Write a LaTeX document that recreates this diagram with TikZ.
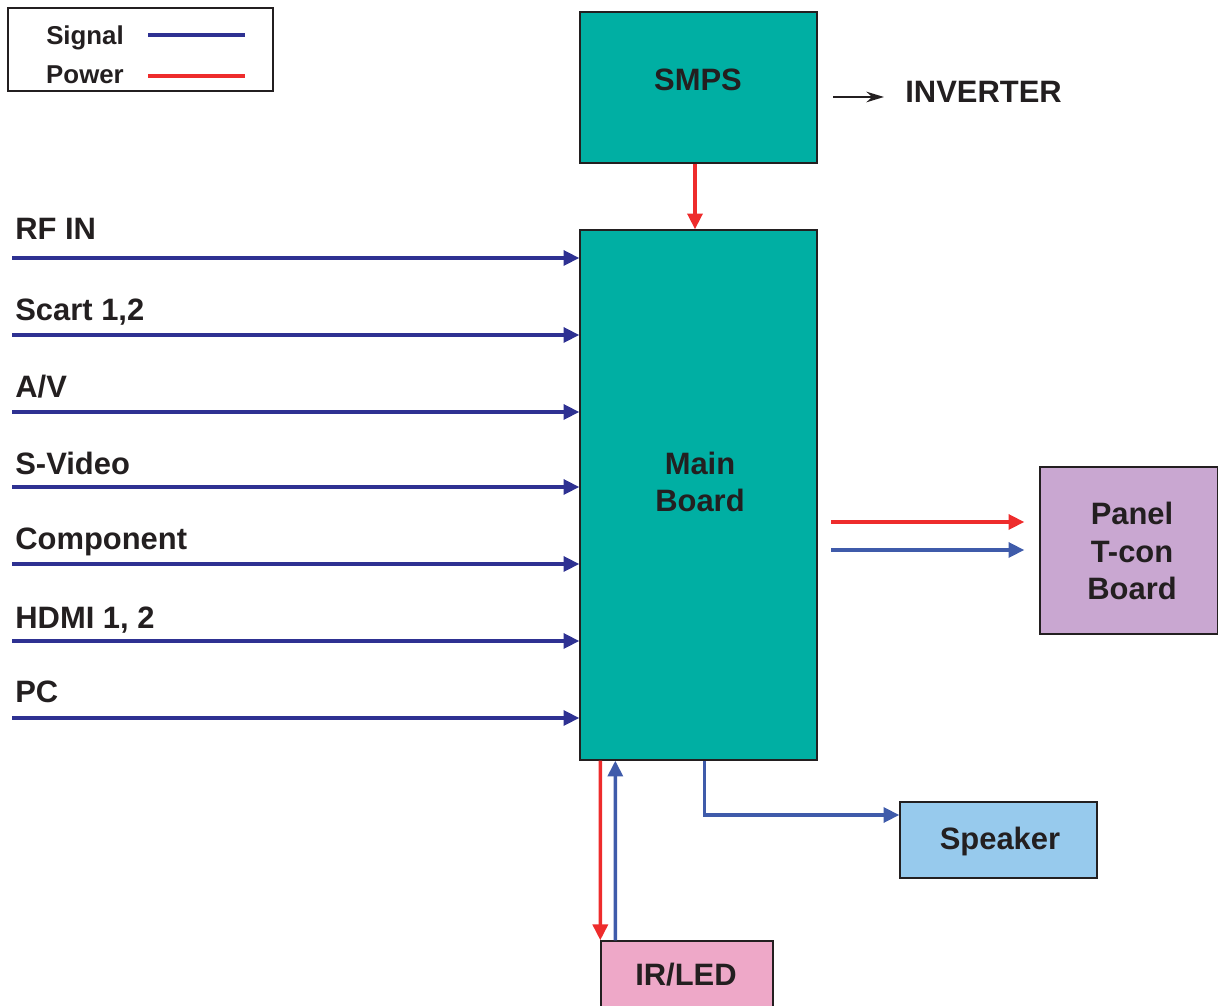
\documentclass[tikz,border=0pt]{standalone}
\usepackage{fontspec}
\setmainfont{Liberation Sans}
\usetikzlibrary{arrows.meta}
\definecolor{boardteal}{HTML}{00AFA3}
\definecolor{sigdark}{HTML}{2E3192}
\definecolor{sigblue}{HTML}{3F5BAA}
\definecolor{pwrred}{HTML}{EE2C2C}
\definecolor{panelpurple}{HTML}{C9A7D1}
\definecolor{spkblue}{HTML}{97CAED}
\definecolor{irpink}{HTML}{EEA8C8}
\definecolor{inkgray}{HTML}{231F20}
\tikzset{
  block/.style={draw=inkgray, line width=0.8pt, inner sep=0pt, align=center,
    text=inkgray, font=\fontsize{17.6}{21.5}\selectfont\bfseries},
  txt/.style={inner sep=0pt, align=center, text=inkgray,
    font=\fontsize{17.6}{21.5}\selectfont\bfseries},
  lbl/.style={txt, anchor=west},
  key/.style={text=inkgray, font=\fontsize{14.7}{17}\selectfont\bfseries},
  tip/.style={-{Triangle[length=9pt,width=8.5pt]}},
  sigin/.style={tip, draw=sigdark, line width=2pt},
  sigout/.style={tip, draw=sigblue, line width=2pt},
  pwr/.style={tip, draw=pwrred, line width=2pt}
}
\begin{document}
\begin{tikzpicture}[x=0.02cm,y=-0.02cm]
\useasboundingbox (0,0) rectangle (1218,1006);
% legend
\node[draw=inkgray, line width=0.8pt, minimum width=5.3cm, minimum height=1.66cm] (legend) at (140.5,49.5) {};
\node[key] (sig-key) at (85,38) {Signal};
\node[key] (pwr-key) at (85,75) {Power};
\coordinate (sig-a) at (148,35);
\coordinate (sig-b) at (245,35);
\coordinate (pwr-a) at (148,76);
\coordinate (pwr-b) at (245,76);
\draw[sigdark, line width=2pt] (sig-a) -- (sig-b);
\draw[pwrred, line width=2pt] (pwr-a) -- (pwr-b);
% boards
\node[block, fill=boardteal, minimum width=4.74cm, minimum height=3.02cm] (smps) at (698.5,87.5) {};
\node[txt] (smps-text) at (698,80) {SMPS};
\node[block, fill=boardteal, minimum width=4.74cm, minimum height=10.6cm] (main) at (698.5,495) {};
\node[txt] (main-text) at (700,482) {Main\\Board};
\node[block, fill=panelpurple, minimum width=3.56cm, minimum height=3.34cm] (panel) at (1129,550.5) {};
\node[txt] (panel-text) at (1132,551) {Panel\\T-con\\Board};
\node[block, fill=spkblue, minimum width=3.94cm, minimum height=1.52cm] (speaker) at (998.5,840) {};
\node[txt] (speaker-text) at (1000,842) {Speaker};
\node[block, fill=irpink, minimum width=3.44cm, minimum height=1.38cm] (irled) at (687,975.5) {};
\node[txt] (irled-text) at (686,975) {IR/LED};
% inverter
\node[lbl] (inverter) at (905,92) {INVERTER};
\coordinate (inv-arrow) at (833,97);
\draw[-{Stealth[length=10pt,width=6pt]}, line width=1.3pt, inkgray] (inv-arrow) -- (inv-arrow -| inverter.west) [shorten >=0.42cm];
% inputs
\foreach \name/\txt/\ly/\y in {rf/RF IN/229/258, scart/{Scart 1,2}/312/335,
    av/{A/V}/387/412, svideo/S-Video/463/487, comp/Component/542/564,
    hdmi/{HDMI 1, 2}/620/641, pc/PC/692/718}
{
  \node[lbl] (\name) at (15,\ly) {\txt};
  \coordinate (\name-start) at (12,\y);
  \draw[sigin] (\name-start) -- (\name-start -| main.west);
}
% power and outputs
\draw[pwr] ([xshift=-0.07cm]smps.south) -- ([xshift=-0.07cm]main.north);
\coordinate (pwr-out) at (831,522);
\coordinate (sig-out) at (831,550);
\draw[pwr, shorten >=0.3cm] (pwr-out) -- (pwr-out -| panel.west);
\draw[sigout, shorten >=0.3cm] (sig-out) -- (sig-out -| panel.west);
\draw[sigout] ([xshift=2.5cm]main.south west) |- ([yshift=0.5cm]speaker.west);
\draw[pwr] ([xshift=0.42cm]main.south west) -- (irled.north west);
\draw[sigout] ([xshift=0.3cm]irled.north west) -- ([xshift=0.72cm]main.south west);
\end{tikzpicture}
\end{document}
